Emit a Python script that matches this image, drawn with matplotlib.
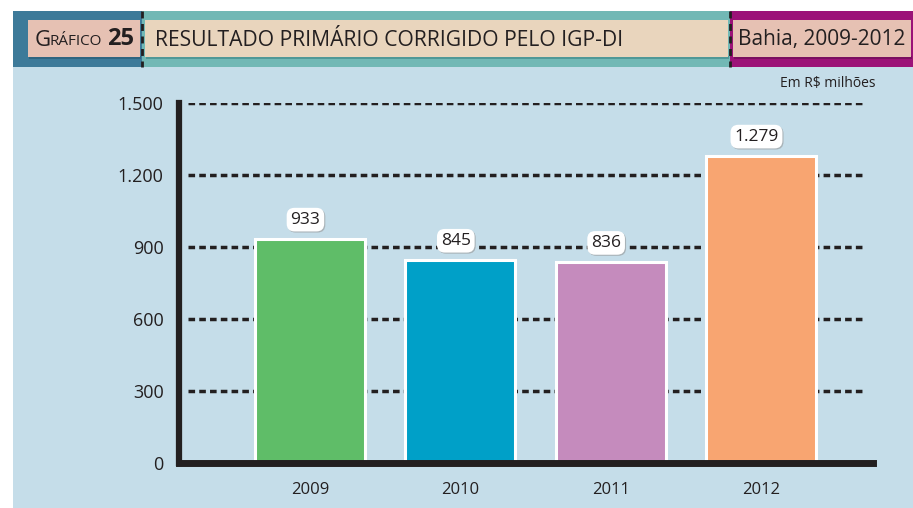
import matplotlib
import matplotlib.pyplot as plt
from matplotlib.patches import Rectangle

matplotlib.rcParams["font.family"] = ["Open Sans", "DejaVu Sans"]

# dados
anos = ["2009", "2010", "2011", "2012"]
valores = [933, 845, 836, 1279]
rotulos = ["933", "845", "836", "1.279"]
cores = ["#5fbd68", "#00a0c8", "#c58bbd", "#f8a571"]
yticks = [0, 300, 600, 900, 1200, 1500]
ytick_labels = ["0", "300", "600", "900", "1.200", "1.500"]

W, H = 913, 508
TXT = "#231f20"

fig = plt.figure(figsize=(W / 100, H / 100), dpi=100)
fig.patch.set_facecolor("white")

# camada de fundo em pixels
bg = fig.add_axes([0, 0, 1, 1])
bg.set_xlim(0, W)
bg.set_ylim(H, 0)
bg.axis("off")

bg.add_patch(Rectangle((13, 67), W - 13, H - 67, color="#c5dde9", lw=0))
# faixa do cabeçalho
bg.add_patch(Rectangle((13, 11), 129, 56, color="#3d7a99", lw=0))
bg.add_patch(Rectangle((142, 11), 588, 56, color="#72b8b5", lw=0))
bg.add_patch(Rectangle((730, 11), W - 730, 56, color="#9c1278", lw=0))
# sombra leve das caixas internas
bg.add_patch(Rectangle((29, 56), 112, 2.5, color="#2f6580", lw=0))
bg.add_patch(Rectangle((146, 56), 583, 2.5, color="#4f9897", lw=0))
bg.add_patch(Rectangle((734, 56), 178, 2.5, color="#7a0f60", lw=0))
bg.add_patch(Rectangle((28, 20), 112, 37, color="#e6c1b3", lw=0))
bg.add_patch(Rectangle((145, 20), 583, 37, color="#e9d5bd", lw=0))
bg.add_patch(Rectangle((733, 20), 178, 37, color="#e6c1b3", lw=0))
for x in (142, 730):
    bg.plot([x, x], [11, 67], color=TXT, lw=2, ls=(0, (2.5, 2)))

bg.text(35, 40, "G", fontsize=16, color=TXT, va="center", ha="left")
bg.text(49.5, 41.5, "RÁFICO", fontsize=11, color=TXT, va="center", ha="left")
bg.text(107, 39, "25", fontsize=17, fontweight="bold", color=TXT, va="center", ha="left")
bg.text(155, 40, "RESULTADO PRIMÁRIO CORRIGIDO PELO IGP-DI", fontsize=15.2,
        color=TXT, va="center", ha="left")
bg.text(738, 40, "Bahia, 2009-2012", fontsize=15, color=TXT, va="center", ha="left")
bg.text(828, 84, "Em R$ milhões", fontsize=10, color=TXT, va="center", ha="center")

# gráfico
ax = fig.add_axes([179 / W, (H - 463) / H, 694 / W, 360 / H])
ax.patch.set_alpha(0)
x = list(range(len(anos)))
ax.set_xlim(-0.871, 3.745)
ax.set_ylim(0, 1500)

for yv in yticks[1:]:
    ax.hlines(yv, -0.81, 3.69, color=TXT, lw=2.5, ls=(0, (1.9, 1.2)), zorder=1)

ax.bar(x, valores, width=0.73, color=cores, edgecolor="white", linewidth=2.2, zorder=2)

for xi, v, lab in zip(x, valores, rotulos):
    ax.annotate(lab, (xi - 0.03, v), xytext=(0.8, 13.2), textcoords="offset points",
                ha="center", va="center", fontsize=12.5, color="#a9b3b8", zorder=3,
                bbox=dict(boxstyle="round,pad=0.22,rounding_size=0.45",
                          fc="#a9b3b8", ec="none"))
    ax.annotate(lab, (xi - 0.03, v), xytext=(0, 14), textcoords="offset points",
                ha="center", va="center", fontsize=12.5, color=TXT, zorder=4,
                bbox=dict(boxstyle="round,pad=0.22,rounding_size=0.45",
                          fc="white", ec="none"))

for side in ("top", "right"):
    ax.spines[side].set_visible(False)
ax.spines["left"].set_linewidth(4.5)
ax.spines["bottom"].set_linewidth(5)
for side in ("left", "bottom"):
    ax.spines[side].set_color(TXT)
    ax.spines[side].set_capstyle("projecting")
    ax.spines[side].set_zorder(3)

ax.set_yticks(yticks)
ax.set_yticklabels(ytick_labels, fontsize=13, color=TXT)
ax.set_xticks(x)
ax.set_xticklabels(anos, fontsize=12, color=TXT)
ax.tick_params(axis="y", length=0, pad=11)
ax.tick_params(axis="x", length=0, pad=14)

fig.savefig("out.png", dpi=100)
